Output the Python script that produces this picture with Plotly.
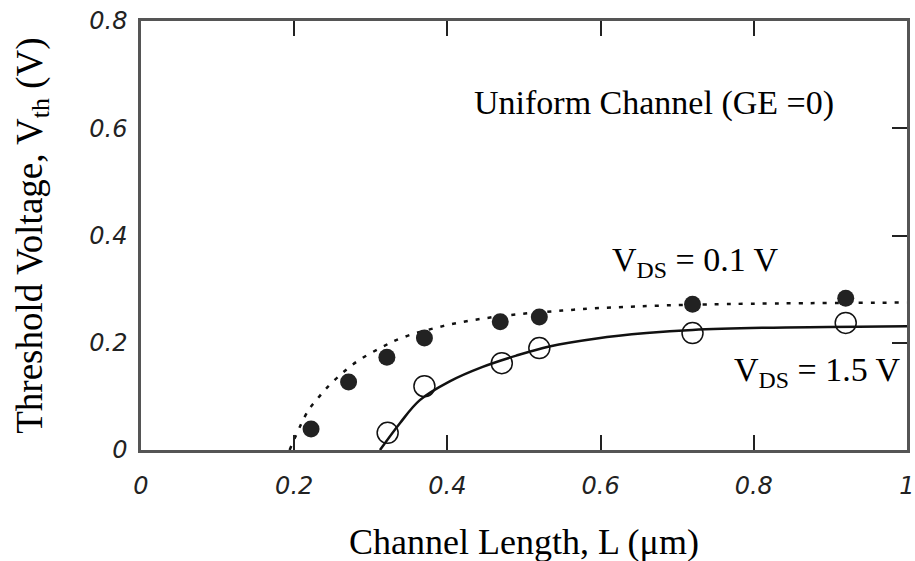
import plotly.graph_objects as go

# Measured threshold voltage vs channel length
L_low = [0.222, 0.271, 0.321, 0.370, 0.469, 0.520, 0.720, 0.920]
vth_low = [0.039, 0.127, 0.173, 0.209, 0.239, 0.248, 0.272, 0.283]

L_high = [0.322, 0.370, 0.471, 0.520, 0.720, 0.920]
vth_high = [0.032, 0.119, 0.162, 0.190, 0.218, 0.237]

# Model curves (V_DS = 0.1 V dotted, V_DS = 1.5 V solid)
fit_low_L = [0.194, 0.218, 0.229, 0.242, 0.277, 0.312, 0.342, 0.394, 0.446,
             0.498, 0.550, 0.589, 0.720, 1.0]
fit_low_v = [0.0, 0.073, 0.093, 0.115, 0.160, 0.190, 0.210, 0.231, 0.245,
             0.254, 0.260, 0.264, 0.271, 0.275]

fit_high_L = [0.312, 0.338, 0.364, 0.403, 0.446, 0.490, 0.533, 0.595, 0.660,
              0.720, 0.811, 1.0]
fit_high_v = [0.0, 0.050, 0.093, 0.128, 0.155, 0.176, 0.193, 0.208, 0.218,
              0.224, 0.228, 0.231]

x_ticks = [0, 0.2, 0.4, 0.6, 0.8, 1]
x_labels = ["0", "0.2", "0.4", "0.6", "0.8", "1"]
y_ticks = [0, 0.2, 0.4, 0.6, 0.8]
y_labels = ["0", "0.2", "0.4", "0.6", "0.8"]

SERIF = "Liberation Serif, Times New Roman, serif"
SANS = "DejaVu Sans, Arial, sans-serif"
FRAME = "#555555"

fig = go.Figure()

fig.add_trace(go.Scatter(
    x=fit_low_L, y=fit_low_v, mode="lines",
    line=dict(color="#111111", width=2.5, dash="4px,8px", shape="spline"),
    showlegend=False, hoverinfo="skip"))
fig.add_trace(go.Scatter(
    x=fit_high_L, y=fit_high_v, mode="lines",
    line=dict(color="#111111", width=2.5, shape="spline"),
    showlegend=False, hoverinfo="skip"))
fig.add_trace(go.Scatter(
    x=L_low, y=vth_low, mode="markers",
    marker=dict(symbol="circle", size=17, color="#222222"),
    showlegend=False))
fig.add_trace(go.Scatter(
    x=L_high, y=vth_high, mode="markers",
    marker=dict(symbol="circle-open", size=21, color="#111111",
                line=dict(width=1.5)),
    showlegend=False))
# right-hand axis carrying only the inward ticks
fig.add_trace(go.Scatter(x=[0], y=[0], yaxis="y2", mode="markers",
                         marker=dict(opacity=0), showlegend=False,
                         hoverinfo="skip"))

fig.update_layout(
    width=915, height=561,
    margin=dict(l=141, r=8, t=21, b=111, autoexpand=False),
    paper_bgcolor="white", plot_bgcolor="white",
    xaxis=dict(
        range=[0, 1], tickvals=x_ticks, ticktext=x_labels,
        showgrid=False, zeroline=False, automargin=False,
        showline=True, linecolor=FRAME, linewidth=2.5, mirror="ticks",
        ticks="inside", ticklen=15, tickwidth=2, tickcolor="#222222",
        tickfont=dict(family=SANS, size=24, color="#222222", style="italic"),
        ticklabelstandoff=12, ticklabeloverflow="allow",
    ),
    yaxis=dict(
        range=[0, 0.8], tickvals=y_ticks, ticktext=y_labels,
        showgrid=False, zeroline=False, automargin=False,
        showline=True, linecolor=FRAME, linewidth=2.5, mirror=True,
        ticks="",
        tickfont=dict(family=SANS, size=24, color="#222222", style="italic"),
        ticklabelstandoff=6, ticklabeloverflow="allow",
    ),
    yaxis2=dict(
        range=[0, 0.8], overlaying="y", side="right", automargin=False,
        tickvals=y_ticks, showticklabels=False,
        showgrid=False, zeroline=False, showline=False,
        ticks="inside", ticklen=15, tickwidth=2, tickcolor="#222222",
    ),
    annotations=[
        dict(text="Threshold Voltage, V<sub>th</sub> (V)", textangle=-90,
             xref="paper", yref="paper", x=-0.142, y=0.5,
             xanchor="center", yanchor="middle", showarrow=False,
             font=dict(family=SERIF, size=37, color="black")),
        dict(text="Channel Length, L (μm)",
             xref="paper", yref="paper", x=0.5, y=(450 - 542) / 429,
             xanchor="center", yanchor="middle", showarrow=False,
             font=dict(family=SERIF, size=36, color="black")),
        dict(text="Uniform Channel (GE =0)",
             xref="paper", yref="paper", x=0.670, y=0.809,
             xanchor="center", yanchor="middle", showarrow=False,
             font=dict(family=SERIF, size=34, color="black")),
        dict(text="V<sub>DS</sub> = 0.1 V",
             xref="paper", yref="paper", x=0.612, y=(450 - 262) / 429,
             xanchor="left", yanchor="middle", showarrow=False,
             font=dict(family=SERIF, size=34, color="black")),
        dict(text="V<sub>DS</sub> = 1.5 V",
             xref="paper", yref="paper", x=0.772, y=(450 - 372) / 429,
             xanchor="left", yanchor="middle", showarrow=False,
             font=dict(family=SERIF, size=34, color="black")),
    ],
)

fig.write_html("out.html")
